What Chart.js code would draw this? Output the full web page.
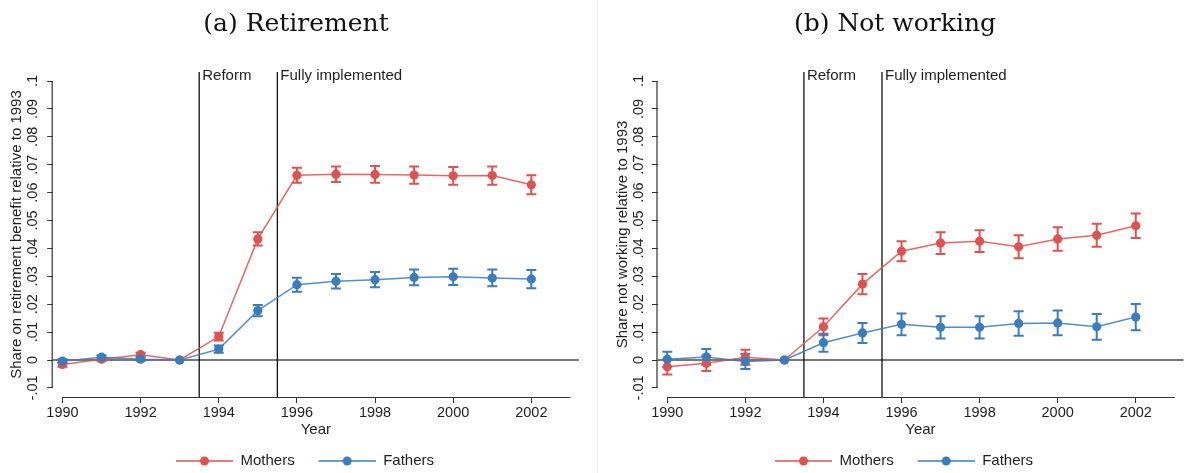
<!DOCTYPE html>
<html>
<head>
<meta charset="utf-8">
<script src="https://cdn.jsdelivr.net/npm/chart.js@4.4.1/dist/chart.umd.min.js"></script>
<style>
  html, body { margin: 0; padding: 0; background: #fff; }
  #wrap { position: relative; width: 1188px; height: 473px; display: flex; }
  .panel { position: relative; width: 594px; height: 473px; }
  #sep { position: absolute; left: 597px; top: 0; width: 1px; height: 473px; background: #efefef; }
</style>
</head>
<body>
<div id="wrap">
  <div class="panel"><canvas id="c-ret" width="594" height="473"></canvas></div>
  <div class="panel"><canvas id="c-nw" width="594" height="473"></canvas></div>
  <div id="sep"></div>
</div>
<script>
/* Event-study style figure: two panels, mothers vs fathers, 95% CI bars. */

const YEARS = [1990, 1991, 1992, 1993, 1994, 1995, 1996, 1997, 1998, 1999, 2000, 2001, 2002];

// (a) Retirement
const RET_MOTHERS    = [-0.0016, 0.0003, 0.0019, 0, 0.0084, 0.0434, 0.0662, 0.0666, 0.0665, 0.0663, 0.0660, 0.0661, 0.0628];
const RET_MOTHERS_CI = [0.0008, 0.0007, 0.0007, 0, 0.0014, 0.0024, 0.0027, 0.0028, 0.0030, 0.0031, 0.0032, 0.0033, 0.0034];
const RET_FATHERS    = [-0.0004, 0.0010, 0.0003, 0, 0.0039, 0.0177, 0.0270, 0.0282, 0.0288, 0.0296, 0.0298, 0.0294, 0.0290];
const RET_FATHERS_CI = [0.0007, 0.0007, 0.0006, 0, 0.0013, 0.0020, 0.0025, 0.0026, 0.0027, 0.0028, 0.0029, 0.0030, 0.0033];

// (b) Not working
const NW_MOTHERS    = [-0.0024, -0.0012, 0.0010, 0, 0.0119, 0.0272, 0.0390, 0.0419, 0.0426, 0.0406, 0.0434, 0.0447, 0.0481];
const NW_MOTHERS_CI = [0.0028, 0.0027, 0.0027, 0, 0.0030, 0.0036, 0.0036, 0.0039, 0.0039, 0.0041, 0.0042, 0.0041, 0.0044];
const NW_FATHERS    = [0.0003, 0.0011, -0.0005, 0, 0.0062, 0.0097, 0.0128, 0.0117, 0.0117, 0.0131, 0.0133, 0.0119, 0.0154];
const NW_FATHERS_CI = [0.0027, 0.0028, 0.0027, 0, 0.0032, 0.0036, 0.0039, 0.0040, 0.0040, 0.0044, 0.0044, 0.0046, 0.0047];

const X_TICKS = [1990, 1992, 1994, 1996, 1998, 2000, 2002];
const X_AXIS_END = 2003;
const Y_TICKS = [-0.01, 0, 0.01, 0.02, 0.03, 0.04, 0.05, 0.06, 0.07, 0.08, 0.09, 0.1];
const Y_TICK_LABELS = ["-.01", "0", ".01", ".02", ".03", ".04", ".05", ".06", ".07", ".08", ".09", ".1"];
const EVENT_YEARS = [1993.5, 1995.5];
const EVENT_LABELS = ["Reform", "Fully implemented"];
const SERIES_LABELS = ["Mothers", "Fathers"];

const X_MIN = 1989.75, X_MAX = 2003.22;
const Y_MIN = -0.01326, Y_MAX = 0.10323;

const RED = "#e0524e", BLUE = "#3a7dbf";
const SANS = "'Liberation Sans', Arial, sans-serif";
const SERIF = "'DejaVu Serif', 'Liberation Serif', serif";
const INK = "#1e1e1e";

// legend key: short line with a dot in the middle (Stata style), 18px blank lead-in
function legendSymbol(color) {
  const c = document.createElement("canvas");
  c.width = 75; c.height = 12;
  const g = c.getContext("2d");
  g.strokeStyle = color; g.lineWidth = 1.5;
  g.beginPath(); g.moveTo(18, 6); g.lineTo(75, 6); g.stroke();
  g.fillStyle = color;
  g.beginPath(); g.arc(46.5, 6, 4.5, 0, Math.PI * 2); g.fill();
  return c;
}
const SYMBOLS = [legendSymbol(RED), legendSymbol(BLUE)];

const stataFrame = {
  id: "stataFrame",
  beforeDatasetsDraw(chart) {
    const { ctx, chartArea: a, scales: { x, y } } = chart;
    ctx.save();
    // axis lines only span the labelled range
    ctx.strokeStyle = "#333"; ctx.lineWidth = 1.2;
    ctx.beginPath();
    ctx.moveTo(x.getPixelForValue(X_TICKS[0]), a.bottom + 0.5);
    ctx.lineTo(x.getPixelForValue(X_AXIS_END), a.bottom + 0.5);
    ctx.moveTo(a.left - 0.5, y.getPixelForValue(Y_TICKS[0]));
    ctx.lineTo(a.left - 0.5, y.getPixelForValue(Y_TICKS[Y_TICKS.length - 1]));
    ctx.stroke();
    // zero line
    const y0 = y.getPixelForValue(0);
    ctx.strokeStyle = "#4a4a4a"; ctx.lineWidth = 1.5;
    ctx.beginPath(); ctx.moveTo(a.left, y0); ctx.lineTo(a.right, y0); ctx.stroke();
    // reform / full implementation markers
    ctx.strokeStyle = "#111"; ctx.lineWidth = 1.3;
    ctx.fillStyle = INK; ctx.font = "15px " + SANS; ctx.textAlign = "left"; ctx.textBaseline = "alphabetic";
    EVENT_YEARS.forEach((yr, i) => {
      const px = x.getPixelForValue(yr);
      ctx.beginPath(); ctx.moveTo(px, a.top); ctx.lineTo(px, a.bottom); ctx.stroke();
      ctx.fillText(EVENT_LABELS[i], px + 3, a.top + 8);
    });
    // confidence intervals
    chart.data.datasets.forEach((ds) => {
      ctx.strokeStyle = ds.pointBackgroundColor; ctx.lineWidth = 2;
      ds.data.forEach((p) => {
        if (!p.e) return;
        const px = x.getPixelForValue(p.x);
        const lo = y.getPixelForValue(p.y - p.e), hi = y.getPixelForValue(p.y + p.e);
        ctx.beginPath();
        ctx.moveTo(px, lo); ctx.lineTo(px, hi);
        ctx.moveTo(px - 5, lo); ctx.lineTo(px + 5, lo);
        ctx.moveTo(px - 5, hi); ctx.lineTo(px + 5, hi);
        ctx.stroke();
      });
    });
    ctx.restore();
  },
};

function series(label, color, vals, ci, order) {
  return {
    label, order,
    data: YEARS.map((yr, i) => ({ x: yr, y: vals[i], e: ci[i] })),
    borderColor: color + "dd", borderWidth: 1.5,
    pointBackgroundColor: color, pointBorderWidth: 0, pointRadius: 4.6,
    tension: 0, fill: false,
  };
}

function panel(id, title, yTitle, mothers, mothersCi, fathers, fathersCi, lay) {
  const tickFont = { family: SANS, size: 14.5 };
  const titleFont = { family: SANS, size: 15 };
  return new Chart(document.getElementById(id), {
    type: "line",
    data: { datasets: [
      series(SERIES_LABELS[0], RED, mothers, mothersCi, 1),
      series(SERIES_LABELS[1], BLUE, fathers, fathersCi, 0),
    ] },
    options: {
      responsive: false, animation: false,
      layout: { padding: { left: lay.left, right: lay.right, top: 0, bottom: -5.5 } },
      plugins: {
        title: { display: true, text: title, color: "#111",
          font: { family: SERIF, size: 25, weight: "normal" }, padding: { top: 9, bottom: 33 } },
        legend: { position: "bottom",
          labels: { usePointStyle: true, pointStyleWidth: 75, boxHeight: 12, padding: 6,
            color: INK, font: { family: SANS, size: 15 },
            generateLabels: (c) => Chart.defaults.plugins.legend.labels.generateLabels(c)
              .sort((p, q) => p.datasetIndex - q.datasetIndex)
              .map((it) => ({ ...it, pointStyle: SYMBOLS[it.datasetIndex] })) } },
        tooltip: { enabled: false },
      },
      scales: {
        x: { type: "linear", min: X_MIN, max: X_MAX,
          afterBuildTicks: (s) => { s.ticks = X_TICKS.map((v) => ({ value: v })); },
          afterFit: (s) => { s.height = 50.5; },
          ticks: { autoSkip: false, maxRotation: 0, padding: 1.5, color: INK, font: tickFont,
            callback: (v) => String(v) },
          grid: { drawOnChartArea: false, tickLength: 6, color: "#333" },
          border: { display: false },
          title: { display: true, text: "Year", color: INK, font: titleFont, padding: { top: 0, bottom: 9 } } },
        y: { type: "linear", min: Y_MIN, max: Y_MAX,
          afterBuildTicks: (s) => { s.ticks = Y_TICKS.map((v) => ({ value: v })); },
          afterFit: (s) => { s.width = lay.yWidth; },
          ticks: { autoSkip: false, minRotation: 90, maxRotation: 90, crossAlign: "center",
            padding: lay.tickPad, color: INK, font: tickFont,
            callback: (v, i) => Y_TICK_LABELS[i] },
          grid: { drawOnChartArea: false, tickLength: 5.5, color: "#333" },
          border: { display: false },
          title: { display: true, text: yTitle, color: INK, font: titleFont, padding: { top: lay.titlePad, bottom: 0 } } },
      },
    },
    plugins: [stataFrame],
  });
}

panel("c-ret", "(a) Retirement", "Share on retirement benefit relative to 1993",
  RET_MOTHERS, RET_MOTHERS_CI, RET_FATHERS, RET_FATHERS_CI,
  { left: 13, right: 15, yWidth: 39.7, tickPad: 1.7, titlePad: -5 });
panel("c-nw", "(b) Not working", "Share not working relative to 1993",
  NW_MOTHERS, NW_MOTHERS_CI, NW_FATHERS, NW_FATHERS_CI,
  { left: 8, right: 0, yWidth: 55.5, tickPad: 0.4, titlePad: 11.5 });
</script>
</body>
</html>
